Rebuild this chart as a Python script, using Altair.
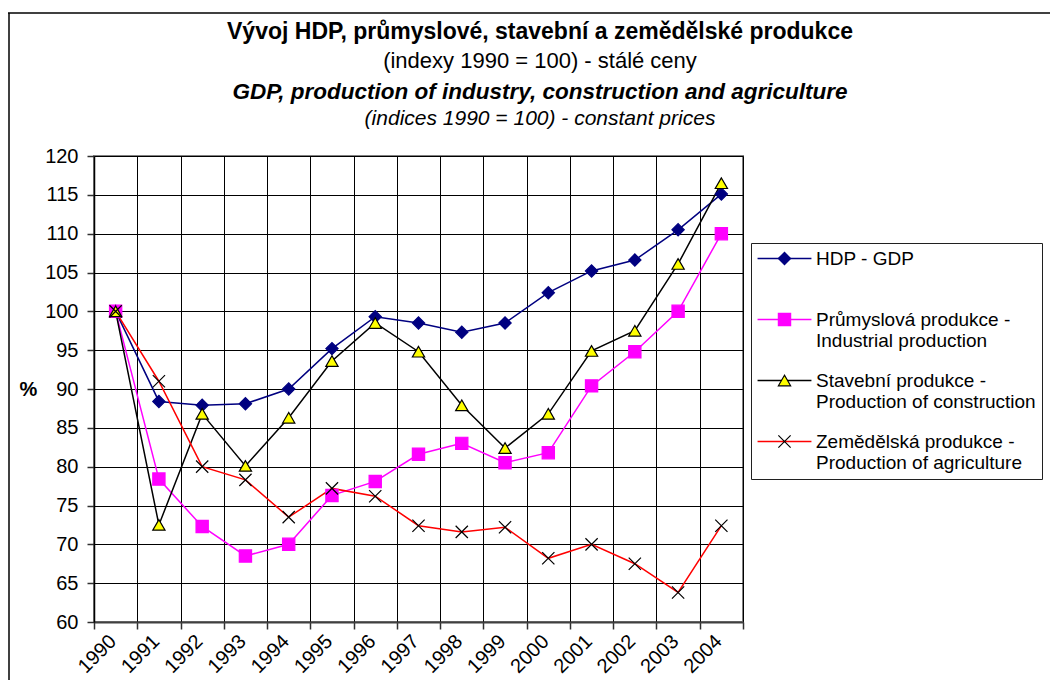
import altair as alt
import pandas as pd

FONT = "Liberation Sans"

years = [str(y) for y in range(1990, 2005)]
gdp = [100, 88.4, 87.9, 88.1, 90.0, 95.2, 99.3, 98.5, 97.3, 98.5, 102.4, 105.2, 106.6, 110.5, 115.1]
industry = [100, 78.4, 72.3, 68.5, 70.0, 76.3, 78.1, 81.6, 83.0, 80.5, 81.8, 90.4, 94.8, 100.0, 110.0]
construction = [100, 72.5, 86.8, 80.1, 86.3, 93.6, 98.5, 94.8, 87.9, 82.4, 86.8, 94.9, 97.5, 106.1, 116.5]
agriculture = [100, 91.0, 80.0, 78.3, 73.5, 77.2, 76.2, 72.4, 71.6, 72.2, 68.2, 70.0, 67.5, 63.8, 72.4]

series = [
    "HDP - GDP|",
    "Průmyslová produkce -|Industrial production",
    "Stavební produkce -|Production of construction",
    "Zemědělská produkce -|Production of agriculture",
]
line_colors = ["#000080", "#FF00FF", "#000000", "#FF0000"]
marker_fill = ["#000080", "#FF00FF", "#FFFF00", "transparent"]
marker_stroke = ["#000080", "#FF00FF", "#000000", "#000000"]
marker_shapes = ["diamond", "square", "triangle-up", "M-1,-1L1,1M-1,1L1,-1"]

title_lines = [
    "Vývoj HDP, průmyslové, stavební a zemědělské produkce",
    "(indexy 1990 = 100) - stálé ceny",
    "GDP, production of industry, construction and agriculture",
    "(indices 1990 = 100) - constant prices",
]
y_ticks = list(range(60, 121, 5))

rows = []
for name, vals in zip(series, [gdp, industry, construction, agriculture]):
    for yr, v in zip(years, vals):
        rows.append({"year": yr, "value": v, "series": name, "line_series": name})
df = pd.DataFrame(rows)

W, H = 649, 466

x_enc = alt.X(
    "year:O",
    bandPosition=0.5,
    scale=alt.Scale(type="band", domain=years, paddingInner=0, paddingOuter=0),
    axis=alt.Axis(
        title=None, tickBand="extent", grid=True, gridColor="black", gridWidth=1,
        ticks=True, tickSize=7, tickColor="#303030", tickWidth=1.5,
        labelAngle=-45, labelAlign="right", labelBaseline="middle",
        labelFont=FONT, labelFontSize=20, labelColor="black",
        labelPadding=9, labelOffset=-3,
        domainColor="#404040", domainWidth=2,
    ),
)
y_enc = alt.Y(
    "value:Q",
    scale=alt.Scale(domain=[60, 120], nice=False, zero=False),
    axis=alt.Axis(
        values=y_ticks, title="%", titleAngle=0, titleFont=FONT, titleFontSize=20,
        titleFontWeight="bold", titleColor="black", titleX=-66, titleY=H / 2,
        titleAlign="center", titleBaseline="middle",
        labelFont=FONT, labelFontSize=20, labelColor="black", labelPadding=9,
        tickSize=7, tickColor="#303030", tickWidth=1.5,
        grid=True, gridColor="black", gridWidth=1,
        domainColor="black", domainWidth=1.5,
    ),
)

common_legend = dict(
    orient="none", legendX=657, legendY=87, title=None,
    labelExpr="split(datum.label, '|')",
    labelFont=FONT, labelFontSize=19, labelColor="black", labelLimit=400,
    labelBaseline="middle", symbolSize=150, padding=6, rowPadding=20,
    symbolOffset=18, labelOffset=22, direction="vertical",
)

line_legend = alt.Legend(
    symbolType="M-4.4,0L4.4,0", symbolStrokeWidth=1.5,
    strokeColor="#202020", fillColor="white", zindex=1, **common_legend,
)
point_legend = alt.Legend(symbolStrokeWidth=1.2, zindex=2, labelOpacity=0, **common_legend)

base = alt.Chart(df)

lines = base.mark_line(strokeWidth=1.5).encode(
    x=x_enc, y=y_enc,
    color=alt.Color("line_series:N", sort=series, scale=alt.Scale(range=line_colors), legend=line_legend),
)
points = base.mark_point(filled=True, size=150, strokeWidth=1.2, opacity=1).encode(
    x=x_enc, y=y_enc,
    fill=alt.Fill("series:N", scale=alt.Scale(domain=series, range=marker_fill), legend=point_legend),
    stroke=alt.Stroke("series:N", scale=alt.Scale(domain=series, range=marker_stroke), legend=point_legend),
    shape=alt.Shape("series:N", scale=alt.Scale(domain=series, range=marker_shapes), legend=point_legend),
)


def title_layer(text, y, size, weight, style):
    return alt.Chart(pd.DataFrame({"t": [text]})).mark_text(
        font=FONT, fontSize=size, fontWeight=weight, fontStyle=style,
        align="center", baseline="middle", color="black",
    ).encode(x=alt.value(446), y=alt.value(y), text="t:N")


titles = [
    title_layer(title_lines[0], -124, 23, "bold", "normal"),
    title_layer(title_lines[1], -95, 22, "normal", "normal"),
    title_layer(title_lines[2], -64, 22.5, "bold", "italic"),
    title_layer(title_lines[3], -37, 21, "normal", "italic"),
]

frame_df = pd.DataFrame({"k": [0]})
frame_top = alt.Chart(frame_df).mark_rule(color="black", strokeWidth=1.5).encode(
    x=alt.value(-86), x2=alt.value(956), y=alt.value(-143)
)
frame_left = alt.Chart(frame_df).mark_rule(color="black", strokeWidth=1.5).encode(
    x=alt.value(-85), y=alt.value(-143), y2=alt.value(540)
)

chart = alt.layer(frame_top, frame_left, *titles, lines, points).properties(
    width=W, height=H,
    autosize=alt.AutoSizeParams(type="none"),
    padding={"left": 86, "top": 148, "right": 307, "bottom": 58},
).configure(font=FONT).configure_view(stroke="#808080", strokeWidth=2)

chart.save("out.html", embed_options={"renderer": "svg", "actions": False})
